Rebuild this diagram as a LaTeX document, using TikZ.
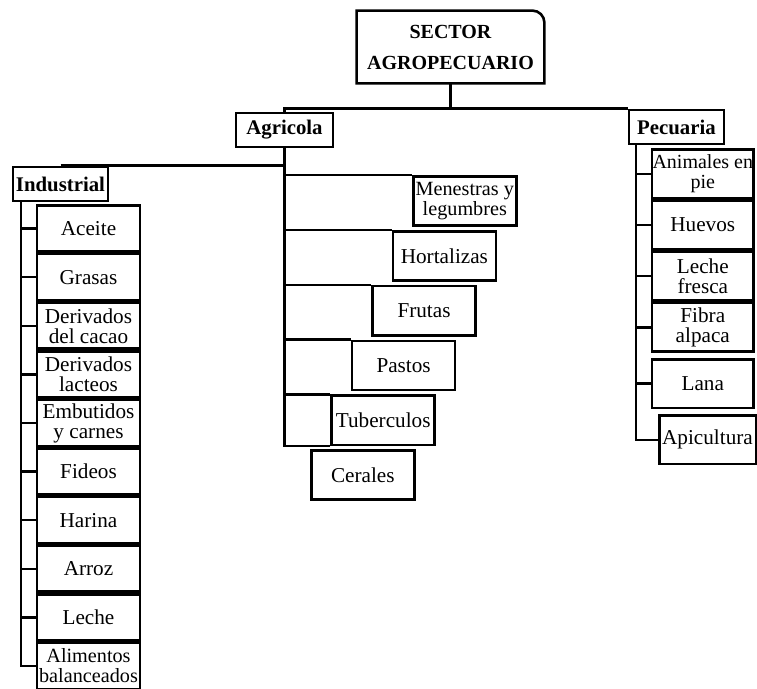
\documentclass[tikz,border=0pt]{standalone}
\usepackage{fontspec}
\setmainfont{Liberation Serif}
\usetikzlibrary{positioning}
\tikzset{%
  head_block/.style={%
    rectangle,%
    minimum width=93.5pt,%
    minimum height=36pt,%
    font={\bfseries},%
    align=center%
  },
  branch_block/.style={%
    rectangle,%
    draw=black,%
    line width=1.3pt,%
    minimum width=47.5pt,%
    minimum height=17pt,%
    inner xsep=1pt,%
    inner ysep=1.5pt,%
    font={\fontsize{10.4}{12}\selectfont\bfseries},%
  },
  item_block/.style={%
    rectangle,%
    draw=black,%
    line width=1.3pt,%
    minimum width=51.5pt,%
    minimum height=23pt,%
    inner xsep=0pt,%
    inner ysep=1pt,%
    font={\fontsize{10.6}{10}\selectfont},%
    align=center,%
  },
  tight_text/.style={%
    font={\fontsize{10.1}{10}\selectfont},%
  },
  link_path/.style={%
    color=black,%
    line width=1.2pt,%
    line join=miter,%
  },
}

\begin{document}
\begin{tikzpicture}[x=0.5pt, y=-0.5pt]
    \useasboundingbox (0,0) rectangle (757,689);
    % main levels
    \node [head_block] (Sector) at (450.5,47) {SECTOR\\[3.5pt]AGROPECUARIO};
    \node [branch_block, minimum width=48.5pt] (Agricola) at (284.5,130) {Agricola};
    \node [branch_block] (Pecuaria) at (676.5,127) {Pecuaria};
    \node [branch_block] (Industrial) at (60.5,184) {Industrial};

    \draw [link_path, line width=1.3pt]
      (Sector.south west)
      --
      (Sector.north west)
      --
      ([xshift=-6pt]Sector.north east)
      arc [start angle=90, end angle=0, radius=6pt]
      --
      (Sector.south east)
      --
      cycle;

    % industrial column
    \node [item_block, below right = 1pt and 12pt of Industrial.south west] (Aceite) {Aceite};
    \node [item_block, below = 0pt of Aceite] (Grasas) {Grasas};
    \node [item_block, below = 0pt of Grasas] (Cacao) {Derivados\\del cacao};
    \node [item_block, below = 0pt of Cacao] (Lacteos) {Derivados\\lacteos};
    \node [item_block, below = 0pt of Lacteos] (Embutidos) {Embutidos\\y carnes};
    \node [item_block, below = 0pt of Embutidos] (Fideos) {Fideos};
    \node [item_block, below = 0pt of Fideos] (Harina) {Harina};
    \node [item_block, below = 0pt of Harina] (Arroz) {Arroz};
    \node [item_block, below = 0pt of Arroz] (Leche) {Leche};
    \node [item_block, tight_text, below = 0pt of Leche] (Alimentos) {Alimentos\\balanceados};

    % agricola steps
    \node [item_block, tight_text, minimum height=24.6pt, below right = 13.5pt and 63.75pt of Agricola.south] (Menestras) {Menestras y\\legumbres};
    \node [item_block, minimum height=24.6pt, below = 1.5pt of Menestras, xshift=-10.2pt] (Hortalizas) {Hortalizas};
    \node [item_block, minimum height=24.6pt, below = 1.5pt of Hortalizas, xshift=-10.2pt] (Frutas) {Frutas};
    \node [item_block, minimum height=24.6pt, below = 1.5pt of Frutas, xshift=-10.2pt] (Pastos) {Pastos};
    \node [item_block, minimum height=24.6pt, below = 1.5pt of Pastos, xshift=-10.2pt] (Tuberculos) {Tuberculos};
    \node [item_block, minimum height=24.6pt, below = 1.5pt of Tuberculos, xshift=-10.2pt] (Cerales) {Cerales};

    % pecuaria column
    \node [item_block, minimum width=50.8pt, minimum height=24.3pt, font={\fontsize{10}{10}\selectfont}, below right = 1.5pt and 11.5pt of Pecuaria.south west] (Animales) {Animales en\\pie};
    \node [item_block, minimum width=50.8pt, minimum height=24.3pt, below = 0pt of Animales] (Huevos) {Huevos};
    \node [item_block, minimum width=50.8pt, minimum height=24.3pt, below = 0pt of Huevos] (Fresca) {Leche\\fresca};
    \node [item_block, minimum width=50.8pt, minimum height=24.3pt, below = 0pt of Fresca] (Fibra) {Fibra\\alpaca};
    \node [item_block, minimum width=50.8pt, minimum height=24.3pt, below = 2.5pt of Fibra] (Lana) {Lana};
    \node [item_block, minimum width=48.3pt, minimum height=24.3pt, below right = 2.5pt and -48.5pt of Lana.south east] (Apicultura) {Apicultura};

    \coordinate (ind_rail) at ([xshift=4.5pt]Industrial.south west);
    \coordinate (pec_rail) at ([xshift=4pt]Pecuaria.south west);

    % top connectors
    \draw [link_path] (Sector.south) -- (Sector.south |- Pecuaria.north);
    \draw [link_path] (Agricola.north) |- (Pecuaria.north west);
    \draw [link_path] (Industrial.north) -- (Agricola.south |- Industrial.north);

    % agricola connectors
    \draw [link_path] (Agricola.south) |- (Tuberculos.south west);
    \draw [link_path] (Agricola.south |- Menestras.north west) -- (Menestras.north west);
    \draw [link_path] (Agricola.south |- Hortalizas.north west) -- (Hortalizas.north west);
    \draw [link_path] (Agricola.south |- Frutas.north west) -- (Frutas.north west);
    \draw [link_path] (Agricola.south |- Pastos.north west) -- (Pastos.north west);
    \draw [link_path] (Agricola.south |- Tuberculos.north west) -- (Tuberculos.north west);

    % industrial connectors
    \draw [link_path] (ind_rail) |- (Alimentos.west);
    \draw [link_path] (ind_rail |- Aceite.west) -- (Aceite.west);
    \draw [link_path] (ind_rail |- Grasas.west) -- (Grasas.west);
    \draw [link_path] (ind_rail |- Cacao.west) -- (Cacao.west);
    \draw [link_path] (ind_rail |- Lacteos.west) -- (Lacteos.west);
    \draw [link_path] (ind_rail |- Embutidos.west) -- (Embutidos.west);
    \draw [link_path] (ind_rail |- Fideos.west) -- (Fideos.west);
    \draw [link_path] (ind_rail |- Harina.west) -- (Harina.west);
    \draw [link_path] (ind_rail |- Arroz.west) -- (Arroz.west);
    \draw [link_path] (ind_rail |- Leche.west) -- (Leche.west);

    % pecuaria connectors
    \draw [link_path] (pec_rail) |- (Apicultura.west);
    \draw [link_path] (pec_rail |- Animales.west) -- (Animales.west);
    \draw [link_path] (pec_rail |- Huevos.west) -- (Huevos.west);
    \draw [link_path] (pec_rail |- Fresca.west) -- (Fresca.west);
    \draw [link_path] (pec_rail |- Fibra.west) -- (Fibra.west);
    \draw [link_path] (pec_rail |- Lana.west) -- (Lana.west);
  \end{tikzpicture}
\end{document}
